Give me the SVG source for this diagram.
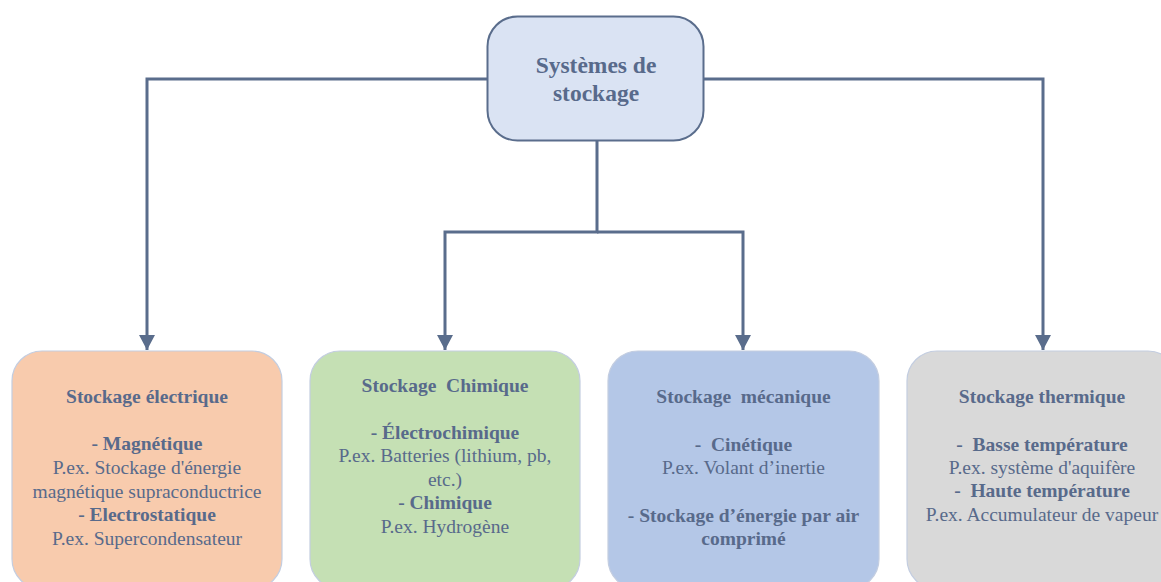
<svg xmlns="http://www.w3.org/2000/svg" width="1161" height="582" viewBox="0 0 1161 582">
  <style>
    .lbl { font-family: "Liberation Serif", "Times New Roman", serif; fill: #586a8b; text-anchor: middle; white-space: pre; }
    .title { font-size: 23.5px; font-weight: bold; }
    .b { font-size: 19.5px; font-weight: bold; }
    .n { font-size: 19.5px; font-weight: normal; }
    .conn { fill: none; stroke: #5a6d8c; stroke-width: 3; stroke-linejoin: miter; }
    .card { stroke: #c3cde0; stroke-width: 1.2; }
  </style>
  <defs>
    <marker id="arrow" markerUnits="userSpaceOnUse" markerWidth="16" markerHeight="16" refX="15" refY="8" orient="auto">
      <path d="M0,0 L15,8 L0,16 Z" fill="#5a6d8c"/>
    </marker>
  </defs>

  <rect width="1161" height="582" fill="#ffffff"/>

  <!-- connectors -->
  <g id="connectors">
    <path class="conn" d="M488,79 H147 V350" marker-end="url(#arrow)"/>
    <path class="conn" d="M703,79 H1043 V350" marker-end="url(#arrow)"/>
    <path class="conn" d="M597,140 V232 H445 V350" marker-end="url(#arrow)"/>
    <path class="conn" d="M597,232 H743 V350" marker-end="url(#arrow)"/>
  </g>

  <!-- root -->
  <g id="root">
    <rect x="487.5" y="16.5" width="216" height="124" rx="30" fill="#dae3f3" stroke="#5a6d8c" stroke-width="2"/>
    <text class="lbl title" x="596" y="73">Systèmes de</text>
    <text class="lbl title" x="596" y="101">stockage</text>
  </g>

  <!-- electrical storage -->
  <g id="electrique">
    <rect class="card" x="12" y="351" width="270" height="238" rx="30" fill="#f8cbad"/>
    <text class="lbl b" x="147" y="403">Stockage électrique</text>
    <text class="lbl b" x="147" y="450">- Magnétique</text>
    <text class="lbl n" x="147" y="474">P.ex. Stockage d'énergie</text>
    <text class="lbl n" x="147" y="498">magnétique supraconductrice</text>
    <text class="lbl b" x="147" y="521">- Electrostatique</text>
    <text class="lbl n" x="147" y="545">P.ex. Supercondensateur</text>
  </g>

  <!-- chemical storage -->
  <g id="chimique">
    <rect class="card" x="310" y="351" width="270" height="238" rx="30" fill="#c5e0b4"/>
    <text class="lbl b" x="445" y="392">Stockage  Chimique</text>
    <text class="lbl b" x="445" y="439">- Électrochimique</text>
    <text class="lbl n" x="445" y="462">P.ex. Batteries (lithium, pb,</text>
    <text class="lbl n" x="445" y="486">etc.)</text>
    <text class="lbl b" x="445" y="509">- Chimique</text>
    <text class="lbl n" x="445" y="533">P.ex. Hydrogène</text>
  </g>

  <!-- mechanical storage -->
  <g id="mecanique">
    <rect class="card" x="608" y="351" width="271" height="238" rx="30" fill="#b4c7e7"/>
    <text class="lbl b" x="743.5" y="403">Stockage  mécanique</text>
    <text class="lbl b" x="743.5" y="451">-  Cinétique</text>
    <text class="lbl n" x="743.5" y="474">P.ex. Volant d’inertie</text>
    <text class="lbl b" x="743.5" y="522">- Stockage d’énergie par air</text>
    <text class="lbl b" x="743.5" y="545">comprimé</text>
  </g>

  <!-- thermal storage -->
  <g id="thermique">
    <rect class="card" x="907" y="351" width="271" height="238" rx="30" fill="#d9d9d9"/>
    <text class="lbl b" x="1042" y="403">Stockage thermique</text>
    <text class="lbl b" x="1042" y="451">-  Basse température</text>
    <text class="lbl n" x="1042" y="474">P.ex. système d'aquifère</text>
    <text class="lbl b" x="1042" y="497">-  Haute température</text>
    <text class="lbl n" x="1042" y="521">P.ex. Accumulateur de vapeur</text>
  </g>
</svg>
